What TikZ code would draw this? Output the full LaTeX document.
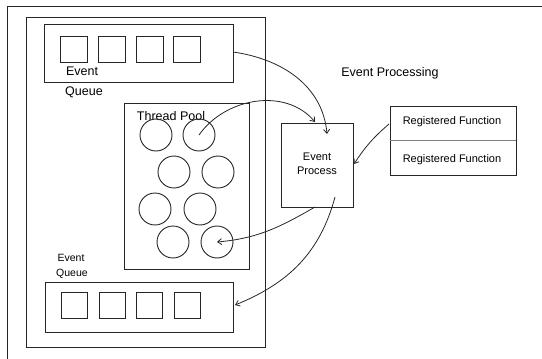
\documentclass[tikz,border=0pt]{standalone}
\usepackage{fontspec}
\setmainfont{Liberation Sans}
\usetikzlibrary{arrows.meta}
\begin{document}
\begin{tikzpicture}[x=1pt,y=-1pt,
  every node/.style={inner sep=0pt,outer sep=0pt},
  ln/.style={draw=black!85,line width=0.9pt},
  box/.style={ln,rectangle},
  sq/.style={box,minimum width=27pt,minimum height=26pt},
  th/.style={ln,circle,minimum size=32pt},
  lbl/.style={font=\fontsize{12.5}{14}\selectfont},
  lbls/.style={font=\fontsize{10.5}{12}\selectfont},
  lblr/.style={font=\fontsize{11}{13}\selectfont},
  conn/.style={draw=black!85,line width=0.8pt,-{Straight Barb[length=4pt,width=6pt]}}
]
\useasboundingbox (0,0) rectangle (542,359);
% outer frame (clipped)
\coordinate (oTL) at (7,6);
\coordinate (oTR) at (542,6);
\coordinate (oBL) at (7,359);
\draw[ln] (oTR) -- (oTL) -- (oBL);
% inner panel
\node[box,minimum width=239pt,minimum height=330pt] (panel) at (145.5,182) {};
% top event queue
\node[box,minimum width=189pt,minimum height=58pt] (q1) at (138.5,53) {};
\node[sq] (s1) at (73.5,49) {};
\node[sq] (s2) at (111.5,49) {};
\node[sq] (s3) at (149.5,49) {};
\node[sq] (s4) at (186.5,49) {};
\node[lbl] (q1a) at (82,71) {Event};
\node[lbl] (q1b) at (84,92) {Queue};
% thread pool
\node[box,minimum width=125pt,minimum height=166pt] (pool) at (186.5,186) {};
\node[lbl] (poolt) at (171,116) {Thread Pool};
\node[th] (c1) at (156,135) {};
\node[th] (c2) at (199,135) {};
\node[th] (c3) at (174,172) {};
\node[th] (c4) at (218,172) {};
\node[th] (c5) at (155,209) {};
\node[th] (c6) at (200,209) {};
\node[th] (c7) at (173,242) {};
\node[th] (c8) at (217,242) {};
% bottom event queue
\node[box,minimum width=188pt,minimum height=50pt] (q2) at (139,307) {};
\node[sq,minimum width=26pt] (t1) at (74.5,305) {};
\node[sq,minimum width=26pt] (t2) at (112,305) {};
\node[sq,minimum width=26pt] (t3) at (149,305) {};
\node[sq,minimum width=26pt] (t4) at (187,305) {};
\node[lbls] (q2a) at (71,258) {Event};
\node[lbls] (q2b) at (72,274) {Queue};
% event processing
\node[lbl] (title) at (390,73) {Event Processing};
\node[box,minimum width=72pt,minimum height=84pt] (ep) at (317,165) {};
\node[lblr] (epa) at (317,157) {Event};
\node[lblr] (epb) at (317,171) {Process};
% registered functions
\node[box,minimum width=126pt,minimum height=69pt] (rf) at (453,140.5) {};
\coordinate (dl) at (390,140);
\coordinate (dr) at (516,140);
\draw[draw=black!50,line width=0.6pt] (dl) -- (dr);
\node[lblr] (rf1) at (452,122) {Registered Function};
\node[lblr] (rf2) at (452,160) {Registered Function};
% connectors
\coordinate (a1s) at (233,52);
\coordinate (a1e) at (327,134);
\draw[conn] (a1s) to[out=-8,in=95] (a1e);
\coordinate (a2e) at (315,122);
\draw[conn] (c2.center) to[out=55,in=130] (a2e);
\coordinate (a3s) at (335,197);
\coordinate (a3e) at (235,305);
\draw[conn] (a3s) to[out=-105,in=22] (a3e);
\coordinate (a4s) at (315,207);
\draw[conn] (a4s) to[out=-150,in=5] (c8.center);
\coordinate (a5s) at (389,124);
\coordinate (a5e) at (354,164);
\draw[conn] (a5s) to[bend right=8] (a5e);
\end{tikzpicture}
\end{document}
